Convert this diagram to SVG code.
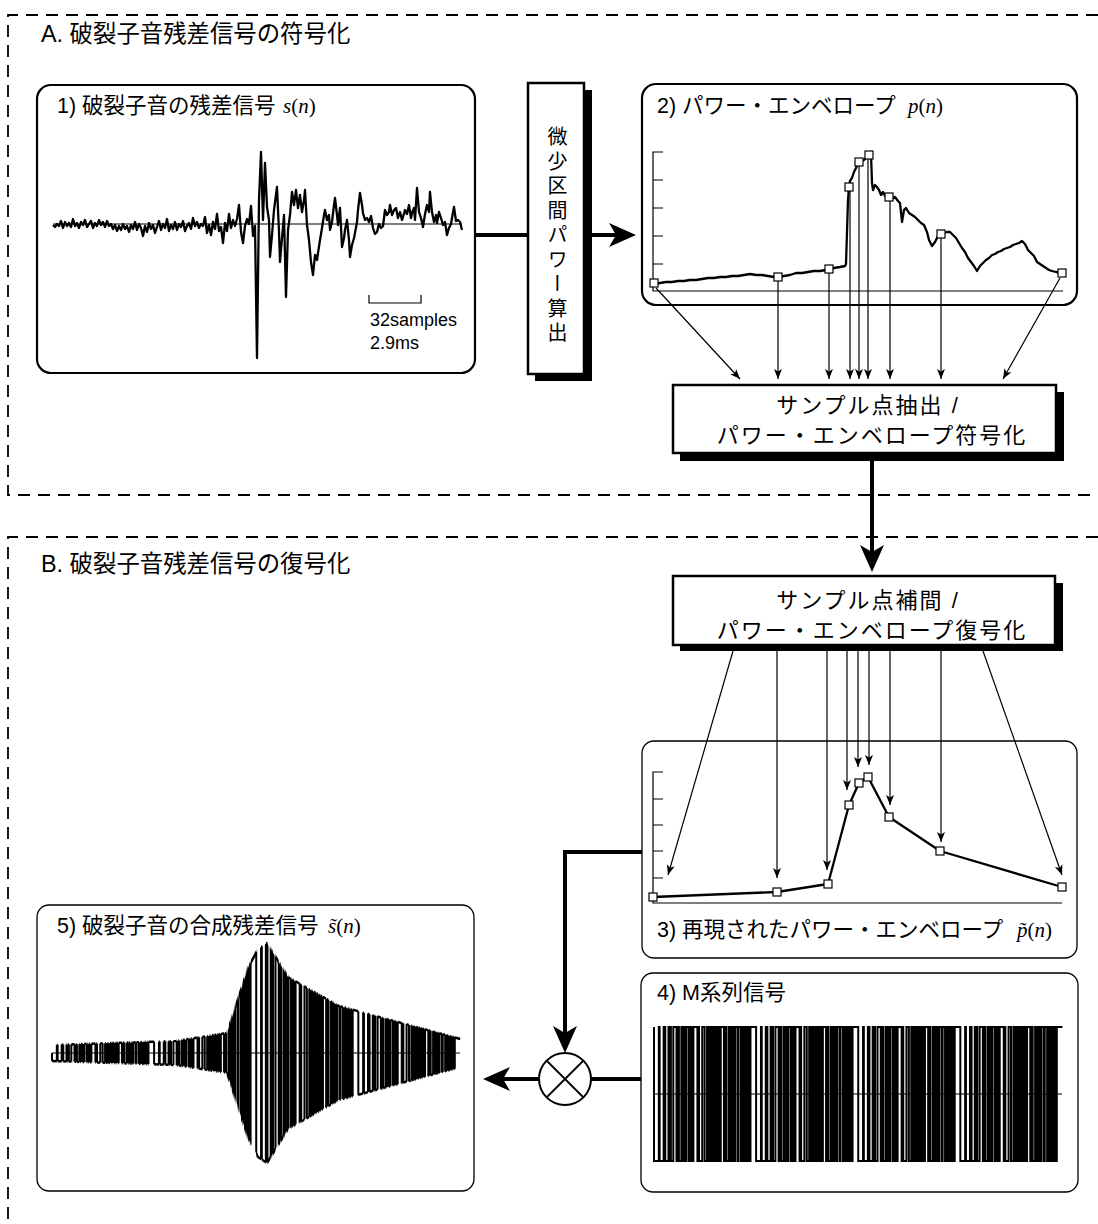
<svg xmlns="http://www.w3.org/2000/svg" xmlns:xlink="http://www.w3.org/1999/xlink" width="1098" height="1224" viewBox="0 0 1098 1224">
<style>
.jp{font-family:'Liberation Sans','Noto Sans CJK JP',sans-serif;font-size:21.5px;fill:#000}
.bx{font-family:'Liberation Sans','Noto Sans CJK JP',sans-serif;font-size:22px;fill:#000;letter-spacing:2px}
.sec{font-family:'Liberation Sans','Noto Sans CJK JP',sans-serif;font-size:23.4px;fill:#000}
.m{font-family:'Liberation Serif',serif;font-style:italic;font-size:21px}
.mu{font-family:'Liberation Serif',serif;font-size:21px}
.pth{fill:#fff;stroke:#000;stroke-width:2.2}
.ptn{fill:#fff;stroke:#000;stroke-width:1.3}
.box{fill:#fff;stroke:#000;stroke-width:2.5}
.shd{fill:#000}
.wave{fill:none;stroke:#000;stroke-width:2.3;stroke-linejoin:round}
.sq{fill:none;stroke:#000;stroke-width:2;stroke-linejoin:miter;vector-effect:non-scaling-stroke}
.env{fill:none;stroke:#000;stroke-width:2.4;stroke-linejoin:round}
.axis{fill:none;stroke:#000;stroke-width:1.2}
.mk{fill:#fff;stroke:#000;stroke-width:1.2}
.thin{fill:none;stroke:#000;stroke-width:1.2;marker-end:url(#ah)}
.thick{fill:none;stroke:#000;stroke-width:4}
.dash{fill:none;stroke:#000;stroke-width:1.8;stroke-dasharray:12 8}
</style>
<defs>
<marker id="ah" markerUnits="userSpaceOnUse" viewBox="-11 -5 12 10" markerWidth="12" markerHeight="10" refX="0" refY="0" orient="auto">
<path d="M0,0 L-10,-4 L-7.5,0 L-10,4 Z" fill="#000"/>
</marker>
<marker id="bah" markerUnits="userSpaceOnUse" viewBox="-28 -13 29 26" markerWidth="29" markerHeight="26" refX="-10" refY="0" orient="auto">
<path d="M0,0 L-27,-12 L-20,0 L-27,12 Z" fill="#000"/>
</marker>
<rect id="sq" x="-4" y="-4" width="8" height="8" class="mk"/>
<clipPath id="envclip" clipPathUnits="userSpaceOnUse">
<polygon points="50,1045 176,1041 227,1033 248,968 258,949 267,943 288,977 339,1006 462,1039 462,1067 339,1100 288,1129 267,1163 258,1157 248,1138 227,1073 176,1065 50,1061"/>
</clipPath>
<mask id="envmask" maskUnits="userSpaceOnUse" x="30" y="880" width="460" height="320">
<path fill="#fff" transform="translate(52,1053) scale(0.804,-150)" d="M0 0 V-1h6V1h1V-1h5V1h2V-1h4V1h1V-1h1V1h1V-1h3V1h4V-1h2V1h1V-1h3V1h1V-1h1V1h2V-1h2V1h3V-1h1V1h1V-1h1V1h1V-1h2V1h5V-1h1V1h1V-1h4V1h3V-1h3V1h1V-1h2V1h1V-1h2V1h2V-1h1V1h2V-1h1V1h1V-1h1V1h2V-1h1V1h4V-1h1V1h2V-1h3V1h2V-1h1V1h1V-1h2V1h1V-1h1V1h3V-1h1V1h3V-1h2V1h2V-1h2V1h1V-1h1V1h1V-1h1V1h1V-1h1V1h7 V-1h6V1h1V-1h5V1h2V-1h4V1h1V-1h1V1h1V-1h3V1h4V-1h2V1h1V-1h3V1h1V-1h1V1h2V-1h2V1h3V-1h1V1h1V-1h1V1h1V-1h2V1h5V-1h1V1h1V-1h4V1h3V-1h3V1h1V-1h2V1h1V-1h2V1h2V-1h1V1h2V-1h1V1h1V-1h1V1h2V-1h1V1h4V-1h1V1h2V-1h3V1h2V-1h1V1h1V-1h2V1h1V-1h1V1h3V-1h1V1h3V-1h2V1h2V-1h2V1h1V-1h1V1h1V-1h1V1h1V-1h1V1h7 V-1h6V1h1V-1h5V1h2V-1h4V1h1V-1h1V1h1V-1h3V1h4V-1h2V1h1V-1h3V1h1V-1h1V1h2V-1h2V1h3V-1h1V1h1V-1h1V1h1V-1h2V1h5V-1h1V1h1V-1h4V1h3V-1h3V1h1V-1h2V1h1V-1h2V1h2V-1h1V1h2V-1h1V1h1V-1h1V1h2V-1h1V1h4V-1h1V1h2V-1h3V1h2V-1h1V1h1V-1h2V1h1V-1h1V1h3V-1h1V1h3V-1h2V1h2V-1h2V1h1V-1h1V1h1V-1h1V1h1V-1h1V1h7 V-1h6V1h1V-1h5V1h2V-1h4V1h1V-1h1V1h1V-1h3V1h4V-1h2V1h1V-1h3V1h1V-1h1V1h2V-1h2V1h3V-1h1V1h1V-1h1V1h1V-1h2V1h5V-1h1V1h1V-1h4V1h3V-1h3V1h1V-1h2V1h1V-1h2V1h2V-1h1V1h2V-1h1V1h1V-1h1V1h2V-1h1V1h4V-1h1V1h2V-1h3V1h2V-1h1V1h1V-1h2V1h1V-1h1V1h3V-1h1V1h3V-1h2V1h2V-1h2V1h1V-1h1V1h1V-1h1V1h1V-1h1V1h7 V0 Z"/>
</mask>
</defs>
<rect width="1098" height="1224" fill="#fff"/>

<g id="sectionA">
<path class="dash" d="M1098 15 H8 V495 H1098"/>
<text class="sec" x="41" y="42">A. 破裂子音残差信号の符号化</text>
</g>
<g id="sectionB">
<path class="dash" d="M1098 537 H8 V1224"/>
<text class="sec" x="41" y="572">B. 破裂子音残差信号の復号化</text>
</g>

<g id="panel1">
<rect class="pth" x="37" y="85" width="438" height="288" rx="14"/>
<text class="jp" x="57" y="113">1) 破裂子音の残差信号 <tspan class="m" x="283">s</tspan><tspan class="mu">(</tspan><tspan class="m">n</tspan><tspan class="mu">)</tspan></text>
<line class="axis" x1="53" y1="224" x2="462" y2="224"/>
<polyline class="wave" points="53,225 55,227 57,224 59,226 61,221 63,228 65,222 67,226 69,223 71,227 73,219 75,226 77,223 79,228 81,222 83,225 85,220 87,227 89,224 91,221 93,228 95,223 97,226 99,220 101,225 103,222 105,227 107,221 109,226 111,224 113,229 115,225 117,231 119,226 121,230 123,224 125,229 127,226 129,232 131,225 133,229 135,222 137,230 139,224 141,228 143,236 145,226 147,232 149,223 151,229 153,225 155,233 157,227 159,221 161,230 163,224 165,228 167,219 169,231 171,225 173,229 175,222 177,230 179,224 181,227 183,221 185,231 187,226 189,223 191,229 193,218 195,226 197,222 199,228 201,224 203,226 205,217 207,233 209,225 211,235 213,222 215,229 217,214 219,231 221,227 223,243 225,223 227,231 229,214 231,228 233,220 235,226 237,219 239,205 241,232 243,243 245,226 247,219 249,224 251,206 253,236 255,226 257,358 259,200 261,152 263,220 265,163 267,207 269,220 270,257 272,235 274,210 277,187 279,232 280,262 282,238 284,215 286,297 288,230 290,215 292,192 294,205 296,190 298,208 300,195 302,212 304,200 305,190 307,225 309,240 311,262 313,275 315,255 317,260 318,253 320,240 322,228 324,215 325,210 327,220 329,215 330,230 332,222 334,205 335,198 337,215 338,225 340,208 342,247 344,238 345,230 347,220 349,240 350,257 352,245 354,238 355,233 357,222 358,210 360,193 362,205 363,213 365,220 367,218 369,222 371,216 373,228 375,234 377,232 379,224 381,228 383,226 385,210 387,215 389,212 390,205 392,215 394,210 396,208 398,218 400,212 402,220 403,217 405,210 407,214 409,205 411,218 412,213 414,208 415,220 417,188 419,212 421,218 423,227 425,214 427,205 429,212 430,192 432,212 434,222 436,215 437,223 439,212 441,218 443,225 445,222 447,235 449,228 451,224 452,218 454,207 456,221 458,220 460,222 462,230"/>
<path class="axis" d="M369 295 V303 H421 V295"/>
<text class="jp" x="370" y="326" style="font-size:18px">32samples</text>
<text class="jp" x="370" y="349" style="font-size:18px">2.9ms</text>
</g>

<g id="powerCalc">
<rect class="shd" x="535" y="90" width="57" height="291"/>
<rect class="box" x="528" y="83" width="56" height="291"/>
<text class="jp" x="556" y="237" text-anchor="middle" style="font-size:20px;writing-mode:vertical-rl;letter-spacing:4.5px">微少区間パワー算出</text>
</g>

<g id="panel2">
<rect class="pth" x="642" y="84" width="435" height="221" rx="14"/>
<text class="jp" x="657" y="113">2) パワー・エンベロープ <tspan class="m" x="908">p</tspan><tspan class="mu">(</tspan><tspan class="m">n</tspan><tspan class="mu">)</tspan></text>
<path class="axis" d="M663 152 H653 V291 H1063 M653 180 H663 M653 208 H663 M653 236 H663 M653 264 H663"/>
<polyline class="wave" points="654,284 660,283 666,282 672,282 678,281 684,281 690,280 696,280 702,279 708,278 714,278 720,277 726,277 732,276 738,276 744,275 750,274 756,275 762,275 768,276 774,277 778,277 784,276 790,275 796,273 802,273 808,272 814,271 820,271 826,270 829,269 834,268 840,267 845,266 846,264 847,232 848,200 849,187 850,181 852,178 854,172 856,168 859,162 862,161 864,160 866,158 869,155 871,154 872,183 873,190 875,185 877,187 879,190 881,195 883,192 885,196 889,197 892,199 895,197 898,201 900,203 902,222 904,210 906,208 909,213 912,215 915,217 918,220 921,223 924,225 927,232 929,240 932,246 935,242 938,236 941,234 944,233 947,232 950,232 953,235 956,238 959,243 962,248 965,252 968,258 971,262 974,266 977,271 980,266 983,263 986,260 989,258 992,255 995,254 998,252 1001,251 1004,249 1007,248 1010,247 1013,245 1016,244 1019,243 1022,241 1025,244 1028,250 1031,253 1034,256 1037,262 1040,264 1043,266 1046,268 1049,270 1052,271 1056,272 1062,273"/>
<use href="#sq" x="654" y="283"/><use href="#sq" x="778" y="277"/><use href="#sq" x="829" y="269"/><use href="#sq" x="849" y="187"/><use href="#sq" x="859" y="162"/><use href="#sq" x="869" y="155"/><use href="#sq" x="889" y="197"/><use href="#sq" x="941" y="234"/><use href="#sq" x="1062" y="273"/>
</g>

<g id="encodeBox">
<rect class="shd" x="680" y="392" width="384" height="69"/>
<rect class="box" x="673" y="385" width="383" height="68"/>
<text class="bx" x="868" y="413" text-anchor="middle">サンプル点抽出 /</text>
<text class="bx" x="872" y="443" text-anchor="middle">パワー・エンベロープ符号化</text>
</g>

<g id="decodeBox">
<rect class="shd" x="680" y="583" width="383" height="68"/>
<rect class="box" x="673" y="576" width="382" height="69"/>
<text class="bx" x="868" y="608" text-anchor="middle">サンプル点補間 /</text>
<text class="bx" x="872" y="638" text-anchor="middle">パワー・エンベロープ復号化</text>
</g>

<g id="panel3">
<rect class="ptn" x="642" y="741" width="435" height="217" rx="12"/>
<path class="axis" d="M663 772 H653 V903 H1062 M653 799 H663 M653 825 H663 M653 851 H663 M653 878 H663"/>
<polyline class="wave" points="653,897 777,892 828,884 849,805 859,783 868,777 889,817 940,851 1062,887"/>
<use href="#sq" x="653" y="897"/><use href="#sq" x="777" y="892"/><use href="#sq" x="828" y="884"/><use href="#sq" x="849" y="805"/><use href="#sq" x="859" y="783"/><use href="#sq" x="868" y="777"/><use href="#sq" x="889" y="817"/><use href="#sq" x="940" y="851"/><use href="#sq" x="1062" y="887"/>
<text class="jp" x="657" y="937">3) 再現されたパワー・エンベロープ <tspan class="m" x="1017">p̃</tspan><tspan class="mu">(</tspan><tspan class="m">n</tspan><tspan class="mu">)</tspan></text>
</g>

<g id="panel4">
<rect class="ptn" x="641" y="973" width="437" height="219" rx="12"/>
<text class="jp" x="657" y="1000">4) M系列信号</text>
<line class="axis" x1="653" y1="1094" x2="1062" y2="1094"/>
<path class="sq" transform="translate(654,1094) scale(0.804,-67)" d="M0 1 V-1h6V1h1V-1h5V1h2V-1h4V1h1V-1h1V1h1V-1h3V1h4V-1h2V1h1V-1h3V1h1V-1h1V1h2V-1h2V1h3V-1h1V1h1V-1h1V1h1V-1h2V1h5V-1h1V1h1V-1h4V1h3V-1h3V1h1V-1h2V1h1V-1h2V1h2V-1h1V1h2V-1h1V1h1V-1h1V1h2V-1h1V1h4V-1h1V1h2V-1h3V1h2V-1h1V1h1V-1h2V1h1V-1h1V1h3V-1h1V1h3V-1h2V1h2V-1h2V1h1V-1h1V1h1V-1h1V1h1V-1h1V1h7 V-1h6V1h1V-1h5V1h2V-1h4V1h1V-1h1V1h1V-1h3V1h4V-1h2V1h1V-1h3V1h1V-1h1V1h2V-1h2V1h3V-1h1V1h1V-1h1V1h1V-1h2V1h5V-1h1V1h1V-1h4V1h3V-1h3V1h1V-1h2V1h1V-1h2V1h2V-1h1V1h2V-1h1V1h1V-1h1V1h2V-1h1V1h4V-1h1V1h2V-1h3V1h2V-1h1V1h1V-1h2V1h1V-1h1V1h3V-1h1V1h3V-1h2V1h2V-1h2V1h1V-1h1V1h1V-1h1V1h1V-1h1V1h7 V-1h6V1h1V-1h5V1h2V-1h4V1h1V-1h1V1h1V-1h3V1h4V-1h2V1h1V-1h3V1h1V-1h1V1h2V-1h2V1h3V-1h1V1h1V-1h1V1h1V-1h2V1h5V-1h1V1h1V-1h4V1h3V-1h3V1h1V-1h2V1h1V-1h2V1h2V-1h1V1h2V-1h1V1h1V-1h1V1h2V-1h1V1h4V-1h1V1h2V-1h3V1h2V-1h1V1h1V-1h2V1h1V-1h1V1h3V-1h1V1h3V-1h2V1h2V-1h2V1h1V-1h1V1h1V-1h1V1h1V-1h1V1h7 V-1h6V1h1V-1h5V1h2V-1h4V1h1V-1h1V1h1V-1h3V1h4V-1h2V1h1V-1h3V1h1V-1h1V1h2V-1h2V1h3V-1h1V1h1V-1h1V1h1V-1h2V1h5V-1h1V1h1V-1h4V1h3V-1h3V1h1V-1h2V1h1V-1h2V1h2V-1h1V1h2V-1h1V1h1V-1h1V1h2V-1h1V1h4V-1h1V1h2V-1h3V1h2V-1h1V1h1V-1h2V1h1V-1h1V1h3V-1h1V1h3V-1h2V1h2V-1h2V1h1V-1h1V1h1V-1h1V1h1V-1h1V1h7"/>
</g>

<g id="panel5">
<rect class="ptn" x="37" y="905" width="437" height="286" rx="12"/>
<text class="jp" x="57" y="933">5) 破裂子音の合成残差信号 <tspan class="m" x="328">s̃</tspan><tspan class="mu">(</tspan><tspan class="m">n</tspan><tspan class="mu">)</tspan></text>
<line class="axis" x1="52" y1="1053" x2="460" y2="1053"/>
<g clip-path="url(#envclip)">
<path class="sq" transform="translate(52,1053) scale(0.804,-150)" d="M0 0 V-1h6V1h1V-1h5V1h2V-1h4V1h1V-1h1V1h1V-1h3V1h4V-1h2V1h1V-1h3V1h1V-1h1V1h2V-1h2V1h3V-1h1V1h1V-1h1V1h1V-1h2V1h5V-1h1V1h1V-1h4V1h3V-1h3V1h1V-1h2V1h1V-1h2V1h2V-1h1V1h2V-1h1V1h1V-1h1V1h2V-1h1V1h4V-1h1V1h2V-1h3V1h2V-1h1V1h1V-1h2V1h1V-1h1V1h3V-1h1V1h3V-1h2V1h2V-1h2V1h1V-1h1V1h1V-1h1V1h1V-1h1V1h7 V-1h6V1h1V-1h5V1h2V-1h4V1h1V-1h1V1h1V-1h3V1h4V-1h2V1h1V-1h3V1h1V-1h1V1h2V-1h2V1h3V-1h1V1h1V-1h1V1h1V-1h2V1h5V-1h1V1h1V-1h4V1h3V-1h3V1h1V-1h2V1h1V-1h2V1h2V-1h1V1h2V-1h1V1h1V-1h1V1h2V-1h1V1h4V-1h1V1h2V-1h3V1h2V-1h1V1h1V-1h2V1h1V-1h1V1h3V-1h1V1h3V-1h2V1h2V-1h2V1h1V-1h1V1h1V-1h1V1h1V-1h1V1h7 V-1h6V1h1V-1h5V1h2V-1h4V1h1V-1h1V1h1V-1h3V1h4V-1h2V1h1V-1h3V1h1V-1h1V1h2V-1h2V1h3V-1h1V1h1V-1h1V1h1V-1h2V1h5V-1h1V1h1V-1h4V1h3V-1h3V1h1V-1h2V1h1V-1h2V1h2V-1h1V1h2V-1h1V1h1V-1h1V1h2V-1h1V1h4V-1h1V1h2V-1h3V1h2V-1h1V1h1V-1h2V1h1V-1h1V1h3V-1h1V1h3V-1h2V1h2V-1h2V1h1V-1h1V1h1V-1h1V1h1V-1h1V1h7 V-1h6V1h1V-1h5V1h2V-1h4V1h1V-1h1V1h1V-1h3V1h4V-1h2V1h1V-1h3V1h1V-1h1V1h2V-1h2V1h3V-1h1V1h1V-1h1V1h1V-1h2V1h5V-1h1V1h1V-1h4V1h3V-1h3V1h1V-1h2V1h1V-1h2V1h2V-1h1V1h2V-1h1V1h1V-1h1V1h2V-1h1V1h4V-1h1V1h2V-1h3V1h2V-1h1V1h1V-1h2V1h1V-1h1V1h3V-1h1V1h3V-1h2V1h2V-1h2V1h1V-1h1V1h1V-1h1V1h1V-1h1V1h7"/>
</g>
<path class="env" mask="url(#envmask)" d="M52 1045 L176 1041 L227 1033 L248 968 L258 949 L267 943 L288 977 L339 1006 L460.4 1039 M52 1061 L176 1065 L227 1073 L248 1138 L258 1157 L267 1163 L288 1129 L339 1100 L460.4 1067"/>
</g>

<g id="multiplier">
<circle cx="565" cy="1079" r="26" fill="#fff" stroke="#000" stroke-width="2"/>
<path d="M547 1061 L583 1097 M583 1061 L547 1097" stroke="#000" stroke-width="1.8"/>
</g>

<g id="connectors">
<path class="thick" d="M475 235 H528"/>
<path class="thick" d="M584 235 H626" marker-end="url(#bah)"/>
<path class="thick" d="M872 461 V562" marker-end="url(#bah)"/>
<path class="thick" d="M642 852 H565 V1043" marker-end="url(#bah)"/>
<path class="thick" d="M641 1079 H591"/>
<path class="thick" d="M539 1079 H493" marker-end="url(#bah)"/>
<path class="thin" d="M656 288 L740 379"/>
<path class="thin" d="M778 281 V379"/>
<path class="thin" d="M829 273 V379"/>
<path class="thin" d="M850 191 V379"/>
<path class="thin" d="M859 166 V379"/>
<path class="thin" d="M868 159 V379"/>
<path class="thin" d="M890 201 V379"/>
<path class="thin" d="M941 238 V379"/>
<path class="thin" d="M1060 278 L1003 379"/>
<path class="thin" d="M733 651 L668 875"/>
<path class="thin" d="M777 651 V878"/>
<path class="thin" d="M827 651 V870"/>
<path class="thin" d="M847 651 V790"/>
<path class="thin" d="M858 651 V767"/>
<path class="thin" d="M869 651 V765"/>
<path class="thin" d="M890 651 V805"/>
<path class="thin" d="M941 651 V842"/>
<path class="thin" d="M983 651 L1062 875"/>
</g>
</svg>
